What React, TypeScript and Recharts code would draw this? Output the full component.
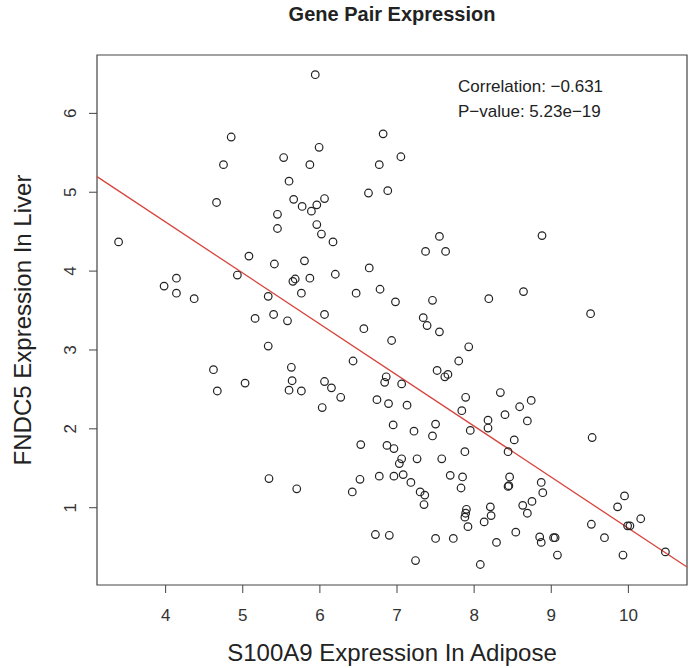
import React from 'react';
import { ScatterChart, Scatter, XAxis, YAxis, ReferenceLine, ReferenceArea } from 'recharts';

const chartTitle = 'Gene Pair Expression';
const xTitle = 'S100A9 Expression In Adipose';
const yTitle = 'FNDC5 Expression In Liver';
const statLines = ['Correlation: \u22120.631', 'P\u2212value: 5.23e\u221219'];

const xTicks = [4, 5, 6, 7, 8, 9, 10];
const yTicks = [1, 2, 3, 4, 5, 6];
const xRange = [3.11, 10.76];
const yRange = [0.02, 6.74];

// fitted line
const fitIntercept = 7.21;
const fitSlope = -0.647;

// [S100A9, FNDC5] pairs, upper half of the cloud
const upperPoints: [number, number][] = [
  [3.39, 4.37], [4.85, 5.7], [4.75, 5.35], [4.66, 4.87], [5.53, 5.44], [5.6, 5.14],
  [5.66, 4.91], [5.45, 4.72], [5.45, 4.54], [5.08, 4.19], [5.41, 4.09], [4.93, 3.95],
  [5.65, 3.87], [5.68, 3.9], [4.14, 3.91], [3.98, 3.81], [4.14, 3.72], [4.37, 3.65],
  [5.33, 3.68], [5.16, 3.4], [5.4, 3.45], [5.58, 3.37], [5.76, 3.72], [5.87, 3.91],
  [5.8, 4.13], [6.2, 3.96], [6.17, 4.37], [6.02, 4.47], [5.96, 4.59], [5.89, 4.76],
  [5.77, 4.82], [5.96, 4.84], [6.06, 4.92], [5.87, 5.35], [5.99, 5.57], [5.94, 6.49],
  [6.63, 4.99], [6.64, 4.04], [6.47, 3.72], [6.78, 3.77], [6.77, 5.35], [6.82, 5.74],
  [7.05, 5.45], [6.88, 5.02], [6.98, 3.61], [7.46, 3.63], [7.55, 4.44], [7.37, 4.25],
  [7.63, 4.25], [6.06, 3.45], [7.34, 3.41], [8.19, 3.65], [8.88, 4.45], [8.64, 3.74],
  [9.51, 3.46],
];

// lower half of the cloud
const lowerPoints: [number, number][] = [
  [5.33, 3.05], [4.62, 2.75], [4.67, 2.48], [5.03, 2.58], [5.63, 2.78], [5.64, 2.61],
  [5.6, 2.49], [5.34, 1.37], [5.7, 1.24], [6.57, 3.27], [6.93, 3.12], [6.43, 2.86],
  [7.39, 3.31], [7.55, 3.23], [7.93, 3.04], [7.8, 2.86], [7.52, 2.74], [7.62, 2.66],
  [7.66, 2.69], [6.86, 2.66], [6.84, 2.59], [7.06, 2.57], [5.76, 2.48], [6.06, 2.6],
  [6.15, 2.52], [6.27, 2.4], [6.03, 2.27], [6.74, 2.37], [6.89, 2.32], [7.13, 2.3],
  [7.89, 2.4], [7.84, 2.23], [6.95, 2.05], [7.22, 1.97], [7.5, 2.06], [7.46, 1.91],
  [7.95, 1.98], [8.18, 2.11], [8.18, 2.01], [6.53, 1.8], [6.87, 1.79], [6.96, 1.75],
  [7.06, 1.62], [7.03, 1.56], [7.26, 1.62], [7.58, 1.62], [7.88, 1.71], [6.52, 1.36],
  [6.77, 1.4], [6.96, 1.4], [7.08, 1.42], [7.18, 1.32], [7.69, 1.41], [7.85, 1.39],
  [7.83, 1.25], [7.3, 1.2], [7.36, 1.16], [7.35, 1.04], [6.42, 1.2], [7.9, 0.98],
  [7.89, 0.93], [7.88, 0.88], [7.92, 0.76], [8.13, 0.82], [8.21, 1.01], [8.22, 0.9],
  [6.72, 0.66], [6.9, 0.65], [7.5, 0.61], [7.73, 0.61], [7.24, 0.33], [8.08, 0.28],
  [8.34, 2.46], [8.74, 2.36], [8.59, 2.28], [8.4, 2.18], [8.69, 2.1], [8.52, 1.86],
  [8.44, 1.71], [9.53, 1.89], [8.46, 1.39], [8.44, 1.27], [8.45, 1.28], [8.87, 1.32],
  [8.89, 1.19], [8.63, 1.03], [8.75, 1.08], [8.69, 0.93], [8.54, 0.69], [8.29, 0.56],
  [8.85, 0.63], [8.87, 0.56], [9.03, 0.62], [9.05, 0.62], [9.08, 0.4], [9.52, 0.79],
  [9.69, 0.62], [9.95, 1.15], [9.86, 1.01], [10.16, 0.86], [9.99, 0.77], [10.02, 0.77],
  [9.93, 0.4], [10.48, 0.44],
];

const points = [...upperPoints, ...lowerPoints].map(([x, y]) => ({ x, y }));

const font = '"Liberation Sans", Arial, Helvetica, sans-serif';
const ink = '#333';

const OpenCircle = (props: any) => (
  <circle cx={props.cx} cy={props.cy} r={3.8} fill="none" stroke="#222" strokeWidth={1.2} />
);

const YTick = ({ x, y, payload }: any) => (
  <text
    x={x}
    y={y}
    transform={`rotate(-90, ${x}, ${y})`}
    textAnchor="middle"
    fontSize={17}
    fill={ink}
    fontFamily={font}
  >
    {payload.value}
  </text>
);

export default function App() {
  const fitStart = { x: xRange[0], y: fitIntercept + fitSlope * xRange[0] };
  const fitEnd = { x: xRange[1], y: fitIntercept + fitSlope * xRange[1] };

  return (
    <div style={{ position: 'absolute', left: 0, top: 0, width: 693, height: 668, background: '#fff', fontFamily: font }}>
      <ScatterChart width={693} height={668} margin={{ top: 55, right: 6, bottom: 23, left: 37 }}>
        <XAxis
          type="number"
          dataKey="x"
          domain={xRange}
          ticks={xTicks}
          allowDataOverflow
          axisLine={false}
          tickSize={8}
          tickMargin={16}
          tickLine={{ stroke: '#444' }}
          tick={{ fontSize: 17, fill: ink, fontFamily: font }}
          height={60}
        />
        <YAxis
          type="number"
          dataKey="y"
          domain={yRange}
          ticks={yTicks}
          allowDataOverflow
          axisLine={false}
          tickSize={8}
          tickMargin={13}
          tickLine={{ stroke: '#444' }}
          tick={<YTick />}
          width={60}
        />
        <ReferenceArea
          x1={xRange[0]}
          x2={xRange[1]}
          y1={yRange[0]}
          y2={yRange[1]}
          fill="none"
          stroke="#444"
          strokeWidth={1.2}
          ifOverflow="visible"
        />
        <Scatter data={points} shape={<OpenCircle />} isAnimationActive={false} />
        <ReferenceLine
          segment={[fitStart, fitEnd]}
          stroke="#d6453d"
          strokeWidth={1.3}
          ifOverflow="visible"
        />
        <text x={392} y={21} textAnchor="middle" fontSize={20} fontWeight="bold" fill="#222" fontFamily={font}>
          {chartTitle}
        </text>
        <text x={458} y={92} fontSize={17} fill="#222" fontFamily={font}>{statLines[0]}</text>
        <text x={458} y={117} fontSize={17} fill="#222" fontFamily={font}>{statLines[1]}</text>
        <text x={392} y={661} textAnchor="middle" fontSize={24} fill="#222" fontFamily={font}>
          {xTitle}
        </text>
        <text
          x={31}
          y={320}
          transform="rotate(-90, 31, 320)"
          textAnchor="middle"
          fontSize={24}
          fill="#222"
          fontFamily={font}
        >
          {yTitle}
        </text>
      </ScatterChart>
    </div>
  );
}
